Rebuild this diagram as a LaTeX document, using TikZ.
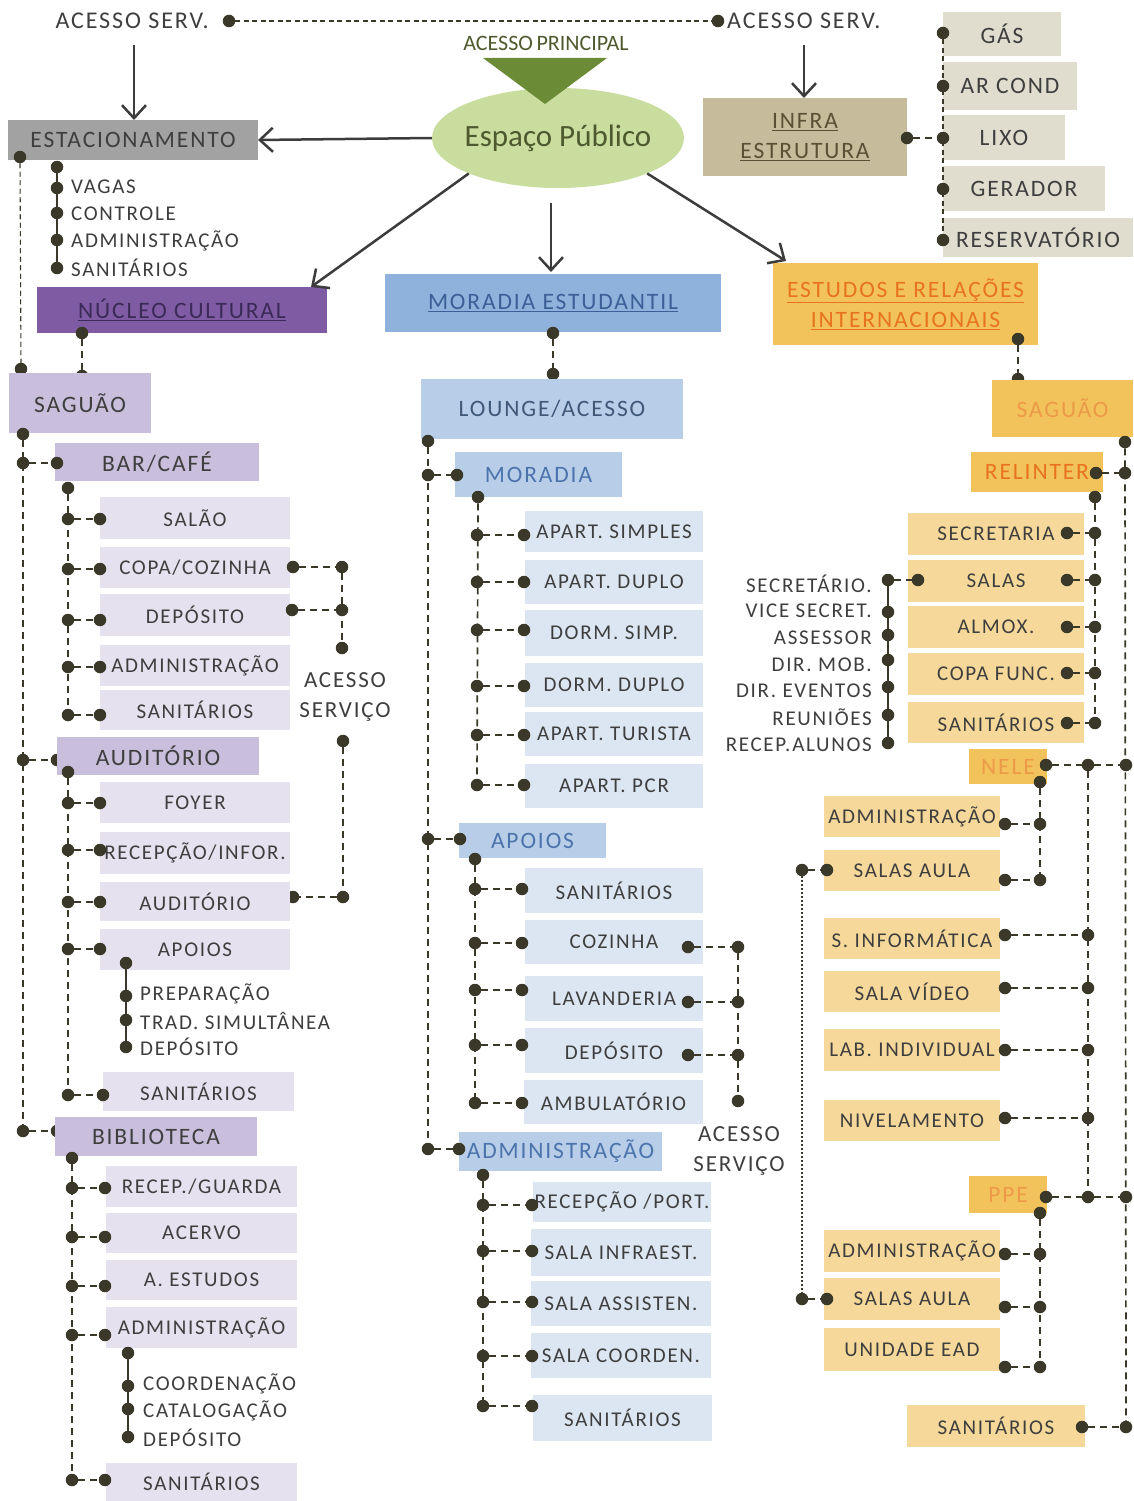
\documentclass[tikz,border=0pt]{standalone}
\usepackage{fontspec}
\setmainfont{Carlito}[LetterSpace=8]
\newfontfamily\plainf{Carlito}
\usetikzlibrary{arrows.meta,shapes.geometric,calc}
\definecolor{txt}{HTML}{3E3E3E}
\definecolor{dotc}{HTML}{3A3828}
\definecolor{arrc}{HTML}{3C3C3C}
\definecolor{grayb}{HTML}{A2A2A2}
\definecolor{ell}{HTML}{C8DD9E}
\definecolor{elltxt}{HTML}{4E5A2E}
\definecolor{tri}{HTML}{6B8B37}
\definecolor{infra}{HTML}{C6BB9B}
\definecolor{inftxt}{HTML}{5A5036}
\definecolor{infs}{HTML}{E0DCCE}
\definecolor{nucc}{HTML}{7F5BA3}
\definecolor{nuctxt}{HTML}{3B2A58}
\definecolor{purm}{HTML}{C9BFDC}
\definecolor{purl}{HTML}{E6E1EE}
\definecolor{blh}{HTML}{8FB2DC}
\definecolor{bltxt}{HTML}{3B5F96}
\definecolor{blm}{HTML}{B8CEE8}
\definecolor{bll}{HTML}{DCE6F2}
\definecolor{blt2}{HTML}{4C73AC}
\definecolor{lotxt}{HTML}{3F5878}
\definecolor{yeh}{HTML}{F3C35B}
\definecolor{ortxt}{HTML}{E8731E}
\definecolor{ortx2}{HTML}{EC9A48}
\definecolor{yel}{HTML}{F6D99A}
\newcommand\fsH{\fontsize{23.5}{27}\selectfont}
\newcommand\fsI{\fontsize{21}{24}\selectfont}
\newcommand\rb[7]{\node[box,#6,minimum width={(#4-#2)*1pt},minimum height={(#5-#3)*1pt}] (#1) at ({(#2+#4)/2},{(#3+#5)/2}) {#7};}
\newcommand\dt[3]{\node[dot] (#1) at (#2,#3) {};}
\newcommand\br[4]{\node[dot] (#1l) at (#2,#4) {};\node[dot] (#1r) at (#3,#4) {};\draw[dsh] (#1l) -- (#1r);}
\begin{document}
\begin{tikzpicture}[x=1pt,y=-1pt,
 box/.style={inner sep=0pt,outer sep=0pt,text=txt,font=\fsI},
 hd/.style={font=\fsH},
 hd2/.style={font=\fontsize{23.5}{30}\selectfont},
 lbl/.style={inner sep=0pt,text=txt,font=\fsI},
 dot/.style={circle,fill=dotc,inner sep=0pt,outer sep=0pt,minimum size=12.5pt},
 dsh/.style={draw=dotc,line width=1.7pt,dash pattern=on 7pt off 5pt},
 thd/.style={draw=dotc,line width=1.1pt,dash pattern=on 5pt off 3.5pt},
 dtd/.style={draw=dotc,line width=1.4pt,dash pattern=on 2pt off 2pt},
 sol/.style={draw=dotc,line width=2.5pt},
 arr/.style={draw=arrc,line width=2.5pt,-{Straight Barb[length=13pt,width=24pt]}}]
\useasboundingbox (0,0) rectangle (1134,1501);
\fill[white] (0,0) rectangle (1134,1501);
% ---------- top ----------
\node[lbl,anchor=east,font=\fontsize{24}{26}\selectfont] (as1) at (209,21) {ACESSO SERV.};
\dt{asa}{229}{21}
\dt{asb}{718}{21}
\node[lbl,anchor=west,font=\fontsize{24}{26}\selectfont] (as2) at (727,21) {ACESSO SERV.};
\draw[thd] (asa) -- (asb);
\node[ellipse,fill=ell,minimum width=252pt,minimum height=100pt,inner sep=0pt] (esp) at (558,138) {};
\node[inner sep=0pt,text=elltxt,font=\plainf\fontsize{31}{33}\selectfont] (espt) at (esp.center) {Espaço Público};
\fill[tri] (483,58) -- (607,58) -- (545,104) -- cycle;
\node[inner sep=0pt,text=elltxt,font=\plainf\fontsize{22}{24}\selectfont] (ap) at (546,43) {ACESSO\,PRINCIPAL};
\rb{est}{8}{120}{258}{160}{hd,fill=grayb}{ESTACIONAMENTO}
\draw[arr] (esp.west) -- (est.east);
\coordinate (a1) at (134,45);
\draw[arr] (a1) -- (a1 |- est.north);
\rb{inf}{703}{98}{907}{176}{hd2,fill=infra,text=inftxt,align=center}{\underline{INFRA}\\\underline{ESTRUTURA}}
\coordinate (a2) at (804,45);
\draw[arr] (a2) -- (a2 |- inf.north);
\rb{nuc}{37}{287}{327}{333}{hd,fill=nucc,text=nuctxt}{\underline{NÚCLEO CULTURAL}}
\rb{mor}{385}{274}{721}{332}{hd,fill=blh,text=bltxt}{\underline{MORADIA ESTUDANTIL}}
\rb{eri}{773}{263}{1038}{345}{hd2,fill=yeh,text=ortxt,align=center}{\underline{ESTUDOS E RELAÇÕES}\\\underline{INTERNACIONAIS}}
\draw[arr] (esp.south west) -- ($(nuc.north east)+(-16,0)$);
\draw[arr] ($(esp.south)+(-7,15)$) -- ($(mor.north)+(-2,-2)$);
\draw[arr] (esp.south east) -- ($(eri.north west)+(13,-2)$);
% ---------- infra ----------
\rb{gas}{943}{12}{1061}{56}{hd,fill=infs}{GÁS}
\rb{arc}{943}{62}{1077}{110}{hd,fill=infs}{AR COND}
\rb{lix}{943}{115}{1065}{160}{hd,fill=infs}{LIXO}
\rb{ger}{943}{166}{1105}{211}{hd,fill=infs}{GERADOR}
\rb{res}{943}{218}{1133}{257}{hd,fill=infs}{RESERVATÓRIO}
\dt{g1}{943}{33}\dt{g2}{943}{86}\dt{g3}{943}{138}\dt{g4}{943}{189}\dt{g5}{943}{240}
\dt{infd}{907}{138}
\draw[thd] (g1) -- (g5);
\draw[dsh] (infd) -- (g3);
% ---------- estacionamento ----------
\dt{e0}{20}{157}
\dt{e1}{57}{167}\dt{e2}{57}{188}\dt{e3}{57}{213}\dt{e4}{57}{240}\dt{e5}{57}{268}
\draw[sol] (e1) -- (e5);
\node[lbl,anchor=west] (v1) at (71,187) {VAGAS};
\node[lbl,anchor=west] (v2) at (71,214) {CONTROLE};
\node[lbl,anchor=west] (v3) at (71,241) {ADMINISTRAÇÃO};
\node[lbl,anchor=west] (v4) at (71,268) {SANITÁRIOS};
\dt{e6}{21}{369}
\draw[thd] (e0) -- (e6);
% ---------- nucleo cultural ----------
\dt{n1}{82}{333}\dt{n2}{82}{376}
\draw[dsh] (n1) -- (n2);
\rb{sagL}{9}{373}{151}{433}{hd,fill=purm}{SAGUÃO}
\dt{s0}{23}{434}
\rb{bar}{55}{443}{259}{481}{hd,fill=purm}{BAR/CAFÉ}
\br{sb}{23}{57}{463}
\br{sa}{23}{57}{760}
\br{si}{23}{57}{1131}
\draw[dsh] (s0) -- (sil);
\dt{bu}{68}{488}
\rb{b1}{100}{497}{290}{539}{fill=purl}{SALÃO}
\rb{b2}{100}{547}{290}{588}{fill=purl}{COPA/COZINHA}
\rb{b3}{100}{594}{290}{636}{fill=purl}{DEPÓSITO}
\rb{b4}{100}{645}{290}{686}{fill=purl}{ADMINISTRAÇÃO}
\rb{b5}{100}{690}{290}{730}{fill=purl}{SANITÁRIOS}
\br{bb1}{68}{100}{519}\br{bb2}{68}{100}{569}\br{bb3}{68}{100}{620}\br{bb4}{68}{100}{667}\br{bb5}{68}{100}{715}
\draw[dsh] (bu) -- (bb5l);
\br{c1}{293}{342}{567}
\br{c2}{292}{342}{610}
\dt{c5}{342}{648}
\draw[dsh] (c1r) -- (c5);
\node[lbl,align=center,font=\fontsize{23}{30}\selectfont] (acs1) at (345,697) {ACESSO\\SERVIÇO};
\dt{c6}{343}{741}\dt{c7}{343}{897}\dt{c8}{293}{897}
\draw[dsh] (c6) -- (c7) -- (c8);
\rb{au}{57}{737}{259}{775}{hd,fill=purm}{AUDITÓRIO}
\dt{auu}{68}{772}
\rb{a1b}{100}{782}{290}{823}{fill=purl}{FOYER}
\rb{a2b}{100}{832}{290}{874}{fill=purl}{RECEPÇÃO/INFOR.}
\rb{a3b}{100}{882}{290}{921}{fill=purl}{AUDITÓRIO}
\rb{a4b}{100}{929}{290}{970}{fill=purl}{APOIOS}
\rb{a5b}{103}{1072}{294}{1111}{fill=purl}{SANITÁRIOS}
\br{ab1}{68}{100}{803}\br{ab2}{68}{100}{850}\br{ab3}{68}{100}{902}\br{ab4}{68}{100}{949}\br{ab5}{68}{103}{1095}
\draw[dsh] (auu) -- (ab5l);
\dt{ap0}{126}{963}\dt{ap1}{126}{996}\dt{ap2}{126}{1020}\dt{ap3}{126}{1047}
\draw[sol] (ap0) -- (ap3);
\node[lbl,anchor=west] (p1) at (140,994) {PREPARAÇÃO};
\node[lbl,anchor=west] (p2) at (140,1021) {TRAD. SIMULTÂNEA};
\node[lbl,anchor=west] (p3) at (140,1047) {DEPÓSITO};
\rb{bi}{55}{1117}{257}{1156}{hd,fill=purm}{BIBLIOTECA}
\dt{biu}{72}{1158}
\rb{i1}{106}{1166}{297}{1207}{fill=purl}{RECEP./GUARDA}
\rb{i2}{106}{1213}{297}{1253}{fill=purl}{ACERVO}
\rb{i3}{106}{1260}{297}{1300}{fill=purl}{A. ESTUDOS}
\rb{i4}{106}{1307}{297}{1348}{fill=purl}{ADMINISTRAÇÃO}
\rb{i5}{106}{1463}{297}{1501}{fill=purl}{SANITÁRIOS}
\br{ib1}{72}{105}{1188}\br{ib2}{72}{105}{1237}\br{ib3}{72}{105}{1286}\br{ib4}{72}{105}{1335}\br{ib5}{72}{105}{1480}
\draw[dsh] (biu) -- (ib5l);
\dt{bs0}{128}{1353}\dt{bs1}{128}{1386}\dt{bs2}{128}{1409}\dt{bs3}{128}{1437}
\draw[sol] (bs0) -- (bs3);
\node[lbl,anchor=west] (q1) at (143,1384) {COORDENAÇÃO};
\node[lbl,anchor=west] (q2) at (143,1411) {CATALOGAÇÃO};
\node[lbl,anchor=west] (q3) at (143,1438) {DEPÓSITO};
% ---------- moradia ----------
\dt{m1}{553}{333}\dt{m2}{553}{374}
\draw[dsh] (m1) -- (m2);
\rb{lou}{421}{379}{683}{439}{hd,fill=blm,text=lotxt}{LOUNGE/ACESSO}
\dt{lu}{428}{441}
\rb{mo}{455}{452}{622}{497}{hd,fill=blm,text=blt2}{MORADIA}
\br{lm}{428}{457}{475}
\dt{mou}{478}{497}
\rb{m1b}{525}{511}{703}{552}{fill=bll}{APART. SIMPLES}
\rb{m2b}{525}{560}{703}{604}{fill=bll}{APART. DUPLO}
\rb{m3b}{525}{610}{703}{656}{fill=bll}{DORM. SIMP.}
\rb{m4b}{525}{663}{703}{707}{fill=bll}{DORM. DUPLO}
\rb{m5b}{525}{712}{703}{756}{fill=bll}{APART. TURISTA}
\rb{m6b}{525}{764}{703}{808}{fill=bll}{APART. PCR}
\br{mb1}{477}{524}{535}\br{mb2}{477}{524}{582}\br{mb3}{477}{524}{630}\br{mb4}{477}{524}{686}\br{mb5}{477}{524}{735}\br{mb6}{477}{524}{785}
\draw[dsh] (mou) -- (mb6l);
\rb{apo}{459}{823}{606}{858}{hd,fill=blm,text=blt2}{APOIOS}
\br{la}{428}{460}{839}
\dt{apu}{475}{859}
\rb{o1b}{525}{868}{703}{913}{fill=bll}{SANITÁRIOS}
\rb{o2b}{525}{920}{703}{964}{fill=bll}{COZINHA}
\rb{o3b}{525}{976}{703}{1021}{fill=bll}{LAVANDERIA}
\rb{o4b}{525}{1028}{703}{1073}{fill=bll}{DEPÓSITO}
\rb{o5b}{524}{1080}{703}{1124}{fill=bll}{AMBULATÓRIO}
\br{ob1}{475}{522}{889}\br{ob2}{475}{522}{943}\br{ob3}{475}{522}{990}\br{ob4}{475}{522}{1045}\br{ob5}{475}{522}{1103}
\draw[dsh] (apu) -- (ob5l);
\br{k1}{688}{738}{947}\br{k2}{688}{738}{1002}\br{k3}{688}{738}{1055}
\dt{k7}{738}{1101}
\draw[dsh] (k1r) -- (k7);
\node[lbl,align=center,font=\fontsize{23}{30}\selectfont] (acs2) at (739,1151) {ACESSO\\SERVIÇO};
\rb{adm}{459}{1132}{662}{1171}{hd,fill=blm,text=blt2}{ADMINISTRAÇÃO}
\br{ld}{428}{459}{1149}
\draw[dsh] (lu) -- (ldl);
\dt{adu}{483}{1175}
\rb{d1b}{533}{1182}{711}{1222}{fill=bll}{RECEPÇÃO /PORT.}
\rb{d2b}{531}{1229}{711}{1276}{fill=bll}{SALA INFRAEST.}
\rb{d3b}{531}{1281}{711}{1326}{fill=bll}{SALA ASSISTEN.}
\rb{d4b}{531}{1333}{711}{1378}{fill=bll}{SALA COORDEN.}
\rb{d5b}{533}{1395}{712}{1441}{fill=bll}{SANITÁRIOS}
\br{db1}{483}{532}{1205}\br{db2}{483}{532}{1251}\br{db3}{483}{532}{1302}\br{db4}{483}{532}{1356}\br{db5}{483}{532}{1406}
\draw[dsh] (adu) -- (db5l);
% ---------- estudos ----------
\dt{r1}{1018}{339}\dt{r2}{1018}{379}
\draw[dsh] (r1) -- (r2);
\rb{sagR}{992}{380}{1133}{437}{hd,fill=yeh,text=ortx2}{SAGUÃO}
\dt{sru}{1125}{442}
\rb{rel}{971}{452}{1103}{492}{hd,fill=yeh,text=ortxt}{RELINTER}
\br{rl}{1096}{1125}{473}
\dt{relu}{1095}{497}
\rb{t1b}{908}{513}{1084}{555}{fill=yel}{SECRETARIA}
\rb{t2b}{908}{560}{1084}{602}{fill=yel}{SALAS}
\rb{t3b}{908}{606}{1084}{648}{fill=yel}{ALMOX.}
\rb{t4b}{908}{653}{1084}{695}{fill=yel}{COPA FUNC.}
\rb{t5b}{908}{702}{1084}{743}{fill=yel}{SANITÁRIOS}
\br{tb1}{1067}{1095}{533}\br{tb2}{1067}{1095}{580}\br{tb3}{1067}{1095}{627}\br{tb4}{1067}{1095}{673}\br{tb5}{1067}{1095}{723}
\draw[dsh] (relu) -- (tb5r);
\br{sl}{888}{918}{580}
\dt{w2}{888}{612}\dt{w3}{888}{635}\dt{w4}{888}{660}\dt{w5}{888}{687}\dt{w6}{888}{715}\dt{w7}{888}{743}
\draw[sol] (sll) -- (w7);
\node[lbl,anchor=east] (x1) at (872,584) {SECRETÁRIO.};
\node[lbl,anchor=east] (x2) at (872,611) {VICE SECRET.};
\node[lbl,anchor=east] (x3) at (872,638) {ASSESSOR};
\node[lbl,anchor=east] (x4) at (872,665) {DIR. MOB.};
\node[lbl,anchor=east] (x5) at (872,691) {DIR. EVENTOS};
\node[lbl,anchor=east] (x6) at (872,717) {REUNIÕES};
\node[lbl,anchor=east] (x7) at (872,745) {RECEP.ALUNOS};
\rb{nele}{969}{749}{1047}{784}{hd,fill=yeh,text=ortx2}{NELE}
\dt{ne0}{1046}{765}\dt{ne1}{1088}{765}\dt{ne2}{1126}{765}
\draw[dsh] (ne0) -- (ne1) -- (ne2);
\dt{neu}{1040}{782}
\rb{u1b}{824}{796}{1000}{837}{fill=yel}{ADMINISTRAÇÃO}
\rb{u2b}{824}{850}{1000}{891}{fill=yel}{SALAS AULA}
\rb{u3b}{824}{918}{1000}{959}{fill=yel}{S. INFORMÁTICA}
\rb{u4b}{824}{971}{1000}{1012}{fill=yel}{SALA VÍDEO}
\rb{u5b}{824}{1029}{1000}{1071}{fill=yel}{LAB. INDIVIDUAL}
\rb{u6b}{824}{1100}{1000}{1141}{fill=yel}{NIVELAMENTO}
\br{ub1}{1005}{1040}{824}\br{ub2}{1005}{1040}{880}
\draw[dsh] (neu) -- (ub2r);
\br{ub3}{1005}{1088}{935}\br{ub4}{1005}{1088}{988}\br{ub5}{1005}{1088}{1050}\br{ub6}{1005}{1088}{1118}
\br{ua}{802}{827}{870}
\rb{ppe}{969}{1176}{1047}{1213}{hd,fill=yeh,text=ortx2}{PPE}
\dt{pp0}{1046}{1197}\dt{pp1}{1088}{1197}\dt{pp2}{1126}{1197}
\draw[dsh] (pp0) -- (pp1) -- (pp2);
\draw[dsh] (ne1) -- (pp1);
\dt{ppu}{1040}{1213}
\rb{v1b}{824}{1230}{1000}{1272}{fill=yel}{ADMINISTRAÇÃO}
\rb{v2b}{824}{1278}{1000}{1320}{fill=yel}{SALAS AULA}
\rb{v3b}{824}{1328}{1000}{1371}{fill=yel}{UNIDADE EAD}
\br{vb1}{1005}{1040}{1254}\br{vb2}{1005}{1040}{1307}\br{vb3}{1005}{1040}{1367}
\draw[dsh] (ppu) -- (vb3r);
\br{va}{802}{827}{1299}
\draw[dtd] (ual) -- (val);
\rb{srs}{907}{1405}{1085}{1447}{fill=yel}{SANITÁRIOS}
\br{sn}{1082}{1126}{1427}
\draw[dsh] (sru) -- (snr);
\end{tikzpicture}
\end{document}
